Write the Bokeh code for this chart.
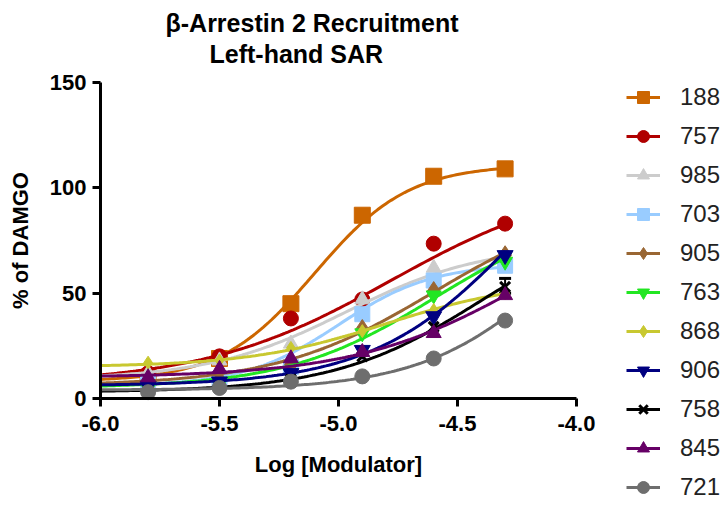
import numpy as np
from bokeh.plotting import figure
from bokeh.models import (Legend, LegendItem, Label, FixedTicker, PrintfTickFormatter,
                          Whisker, ColumnDataSource, TeeHead, Range1d)
from bokeh.embed import file_html
from bokeh.resources import INLINE

# ---- data ----
log_conc = [-5.8, -5.5, -5.2, -4.9, -4.6, -4.3]

compounds = ["188", "757", "985", "703", "905", "763", "868", "906", "758", "845", "721"]

resp_188 = [10, 19, 45, 87, 105.5, 109]
resp_757 = [12, 20, 38, 47, 73.5, 83]
resp_985 = [12, 18, 26, 47, 62, 67]
resp_703 = [7, 9, 15, 40, 56, 63]
resp_905 = [6, 9, 16, 33, 51, 68]
resp_763 = [5, 7, 12, 31, 49, 65]
resp_868 = [17, 18, 24, 32, 42, 50]
resp_906 = [6, 8, 12, 23, 39, 68]
resp_758 = [3, 5, 9, 20, 34, 53]
resp_845 = [10, 14, 19, 22, 31, 49]
resp_721 = [3, 5, 8, 10.5, 19, 37]

# fitted sigmoidal curve parameters (bottom, top, logEC50, Hill slope)
fit_bottom = [8, 7, 9, 6, 6, 5, 15, 6, 3, 10, 4]
fit_top = [111, 105, 73, 64, 95, 90, 56, 150, 90, 100, 120]
fit_logec50 = [-5.1, -4.78, -4.97, -5.0, -4.6, -4.6, -4.8, -4.23, -4.4, -4.2, -4.05]
fit_hill = [2.2, 1.1, 1.5, 2.2, 1.3, 1.4, 1.5, 1.4, 1.4, 1.2, 1.5]

# error bar of 758 at the top concentration
err_758_x = [-4.3]
err_758_low = [50]
err_758_high = [57]

x_ticks = [-6.0, -5.5, -5.0, -4.5, -4.0]
y_ticks = [0, 50, 100, 150]

title_lines = ["β-Arrestin 2 Recruitment", "Left-hand SAR"]

responses = [resp_188, resp_757, resp_985, resp_703, resp_905, resp_763,
             resp_868, resp_906, resp_758, resp_845, resp_721]

colors = ["#CC6600", "#B00000", "#CCCCCC", "#99CCFF", "#996633", "#22E622",
          "#C8C830", "#000080", "#000000", "#660066", "#6E6E6E"]
markers = ["square", "circle", "triangle", "square", "diamond", "inverted_triangle",
           "diamond", "inverted_triangle", "x", "triangle", "circle"]
sizes = [16, 15, 15, 15, 19, 15, 13, 16, 14, 15, 15]

FONT = "Liberation Sans"

# The frame covers the whole canvas, so that titles, axis labels and the legend are not
# clipped; the axes are placed with fixed_location and limited with bounds.
AXIS_LEFT, AXIS_TOP = 100, 82    # pixel position of the axes' corner (x=-6, y=150)
AX_W, AX_H = 476, 316            # pixel size of the axes box
W, H = 725, 510
px_x = AX_W / (x_ticks[-1] - x_ticks[0])
px_y = AX_H / (y_ticks[-1] - y_ticks[0])
x_start = x_ticks[0] - AXIS_LEFT / px_x
x_end = x_ticks[0] + (W - AXIS_LEFT) / px_x
y_end = y_ticks[-1] + AXIS_TOP / px_y
y_start = y_ticks[-1] - (H - AXIS_TOP) / px_y


def sx(px):
    return x_ticks[0] + (px - AXIS_LEFT) / px_x


def sy(py):
    return y_ticks[-1] + (AXIS_TOP - py) / px_y


p = figure(width=W, height=H,
           x_range=Range1d(x_start, x_end),
           y_range=Range1d(y_start, y_end),
           output_backend="svg", toolbar_location=None,
           min_border_left=0, min_border_right=0, min_border_top=0, min_border_bottom=0)
p.outline_line_color = None
p.xgrid.visible = False
p.ygrid.visible = False
p.background_fill_color = "white"
p.border_fill_color = "white"

for ax in (p.xaxis[0], p.yaxis[0]):
    ax.axis_line_width = 3
    ax.axis_line_color = "black"
    ax.major_tick_line_width = 3
    ax.major_tick_line_color = "black"
    ax.major_tick_out = 8
    ax.major_tick_in = 0
    ax.minor_tick_line_color = None
    ax.major_label_text_font = FONT
    ax.major_label_text_font_style = "bold"
    ax.major_label_text_font_size = "22px"
    ax.major_label_text_color = "black"
    ax.axis_label_text_font = FONT
    ax.axis_label_text_font_style = "bold"
    ax.axis_label_text_font_size = "22px"
    ax.axis_label_text_color = "black"

p.xaxis.ticker = FixedTicker(ticks=x_ticks)
p.xaxis.formatter = PrintfTickFormatter(format="%.1f")
p.xaxis.bounds = (x_ticks[0], x_ticks[-1])
p.xaxis.fixed_location = y_ticks[0]
p.xaxis.major_label_standoff = 9
p.xaxis.axis_label = "Log [Modulator]"
p.xaxis.axis_label_standoff = 18

p.yaxis.ticker = FixedTicker(ticks=y_ticks)
p.yaxis.bounds = (y_ticks[0], y_ticks[-1])
p.yaxis.fixed_location = x_ticks[0]
p.yaxis.major_label_standoff = 6
p.yaxis.axis_label = "% of DAMGO"
p.yaxis.axis_label_standoff = 14

xs_fit = np.linspace(-6.0, -4.3, 150)
items = []
for i, name in enumerate(compounds):
    b, t, ec, h = fit_bottom[i], fit_top[i], fit_logec50[i], fit_hill[i]
    ys_fit = b + (t - b) / (1 + 10 ** ((ec - xs_fit) * h))
    lr = p.line(xs_fit, ys_fit, line_color=colors[i], line_width=3)
    if markers[i] == "x":
        sr = p.scatter(log_conc, responses[i], marker="x", size=sizes[i],
                       line_color=colors[i], line_width=3)
    else:
        sr = p.scatter(log_conc, responses[i], marker=markers[i], size=sizes[i],
                       fill_color=colors[i], line_color=colors[i], line_width=1)
    if name == "758":
        src = ColumnDataSource(dict(x=err_758_x, lo=err_758_low, hi=err_758_high))
        wk = Whisker(base="x", lower="lo", upper="hi", source=src, line_color="black",
                     line_width=2,
                     upper_head=TeeHead(size=12, line_width=3, line_color="black"),
                     lower_head=TeeHead(size=12, line_width=3, line_color="black"))
        p.add_layout(wk)
    items.append(LegendItem(label=name, renderers=[lr, sr]))

legend = Legend(items=items, location=(626, 8), padding=0, margin=0,
                glyph_width=34, glyph_height=30, label_height=30, spacing=9,
                label_standoff=20, label_text_font=FONT, label_text_font_size="24px",
                label_text_color="#222222", border_line_color=None,
                background_fill_alpha=0)
p.add_layout(legend)

# two-line title, left edges and vertical centres in canvas pixels
title_left_px = [165, 209]
title_mid_px = [22, 53]
for txt, lx, my in zip(title_lines, title_left_px, title_mid_px):
    p.add_layout(Label(x=sx(lx), y=sy(my), text=txt, text_font=FONT,
                       text_font_style="bold", text_font_size="25px", text_color="black",
                       text_align="left", text_baseline="middle"))

open("out.html", "w").write(file_html(p, INLINE))
